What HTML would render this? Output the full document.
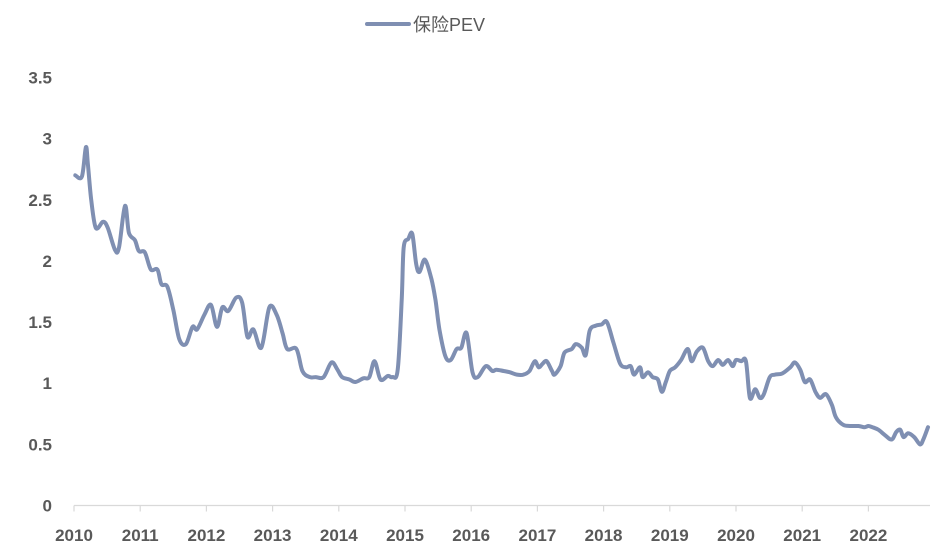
<!DOCTYPE html>
<html><head><meta charset="utf-8">
<style>
html,body{margin:0;padding:0;background:#fff;}
svg text{font-family:"Liberation Sans","Noto Sans CJK SC",sans-serif;}
</style></head>
<body>
<svg id="chart" width="942" height="552" viewBox="0 0 942 552" xmlns="http://www.w3.org/2000/svg">
  <g>
    <line x1="367" y1="24" x2="409" y2="24" stroke="#7f8fb2" stroke-width="4" stroke-linecap="round"/>
    <text x="413" y="31" font-size="18" fill="#595959">保险PEV</text>
  </g>
  <g id="yaxis"></g>
  <g id="xaxis"></g>
  <path id="series" fill="none" stroke="#7f8fb2" stroke-width="4" stroke-linejoin="round" stroke-linecap="round"/>
</svg>
<script>
const yTicks = [0, 0.5, 1, 1.5, 2, 2.5, 3, 3.5];
const yTickLabels = ["0","0.5","1","1.5","2","2.5","3","3.5"];
const xYears = [2010,2011,2012,2013,2014,2015,2016,2017,2018,2019,2020,2021,2022];
const dates = [0.02,0.12,0.18,0.21,0.26,0.33,0.44,0.51,0.62,0.68,0.77,0.83,0.92,0.98,1.07,1.16,1.26,1.32,1.41,1.50,1.59,1.69,1.79,1.86,1.97,2.07,2.16,2.24,2.33,2.45,2.54,2.62,2.71,2.83,2.95,3.06,3.15,3.22,3.36,3.45,3.56,3.65,3.77,3.89,3.98,4.05,4.16,4.25,4.37,4.46,4.54,4.63,4.74,4.81,4.89,4.95,4.98,5.05,5.11,5.17,5.22,5.30,5.40,5.46,5.52,5.61,5.69,5.78,5.85,5.93,6.02,6.10,6.22,6.32,6.38,6.49,6.58,6.69,6.79,6.88,6.96,7.02,7.08,7.14,7.22,7.26,7.35,7.41,7.52,7.58,7.67,7.73,7.79,7.88,7.97,8.05,8.15,8.25,8.34,8.41,8.46,8.55,8.59,8.67,8.74,8.82,8.88,8.94,9.00,9.08,9.17,9.27,9.33,9.41,9.50,9.58,9.65,9.73,9.80,9.88,9.95,10.00,10.08,10.15,10.21,10.29,10.36,10.42,10.51,10.59,10.70,10.82,10.89,10.97,11.04,11.12,11.20,11.27,11.36,11.45,11.51,11.62,11.72,11.85,11.94,12.00,12.06,12.15,12.24,12.35,12.42,12.48,12.53,12.60,12.69,12.78,12.83,12.90];
const values = [2.70,2.69,2.93,2.79,2.50,2.27,2.32,2.27,2.09,2.11,2.45,2.23,2.17,2.08,2.07,1.93,1.93,1.81,1.79,1.60,1.36,1.32,1.46,1.44,1.56,1.64,1.46,1.62,1.59,1.70,1.66,1.38,1.44,1.29,1.62,1.56,1.41,1.28,1.28,1.10,1.05,1.05,1.05,1.17,1.11,1.05,1.03,1.01,1.04,1.05,1.18,1.03,1.06,1.05,1.11,1.68,2.11,2.18,2.22,1.97,1.91,2.01,1.85,1.68,1.44,1.22,1.19,1.28,1.29,1.41,1.09,1.05,1.14,1.10,1.11,1.10,1.09,1.07,1.07,1.10,1.18,1.13,1.16,1.18,1.10,1.07,1.14,1.25,1.28,1.32,1.29,1.23,1.43,1.47,1.48,1.50,1.33,1.16,1.13,1.14,1.07,1.13,1.05,1.09,1.05,1.03,0.93,1.01,1.10,1.13,1.19,1.28,1.18,1.26,1.29,1.18,1.14,1.19,1.15,1.19,1.14,1.19,1.18,1.18,0.88,0.95,0.88,0.91,1.05,1.07,1.08,1.13,1.17,1.11,1.01,1.03,0.93,0.88,0.91,0.82,0.72,0.66,0.65,0.65,0.64,0.65,0.64,0.62,0.58,0.54,0.60,0.62,0.56,0.59,0.56,0.50,0.54,0.64];

const NS = "http://www.w3.org/2000/svg";
const x0 = 74, pxPerYear = 66.2, y0 = 505.5, pxPerUnit = 122.3;
function xScale(t){ return x0 + t * pxPerYear; }
function yScale(v){ return y0 - v * pxPerUnit; }
function mk(tag, attrs, parent){
  const e = document.createElementNS(NS, tag);
  for (const k in attrs) e.setAttribute(k, attrs[k]);
  parent.appendChild(e); return e;
}
const yG = document.getElementById('yaxis');
yTicks.forEach((v,i)=>{
  const t = mk('text',{x:52,y:yScale(v)+6,'text-anchor':'end','font-size':17,'font-weight':'bold',fill:'#595959'},yG);
  t.textContent = yTickLabels[i];
  
  
});
const xG = document.getElementById('xaxis');
const axisLine = mk('line',{x1:x0,y1:y0,x2:930,y2:y0,stroke:'#d9d9d9','stroke-width':1.2},xG);


xYears.forEach((yr,i)=>{
  const x = xScale(yr - 2010);
  const tk = mk('line',{x1:x,y1:y0,x2:x,y2:y0+6,stroke:'#d9d9d9','stroke-width':1.2},xG);
  
  
  const t = mk('text',{x:x,y:541,'text-anchor':'middle','font-size':17,'font-weight':'bold',fill:'#595959'},xG);
  t.textContent = String(yr);
  
  
});
const pts = dates.map((d,i)=>[xScale(d), yScale(values[i])]);
let d = 'M' + pts[0][0].toFixed(1) + ',' + pts[0][1].toFixed(1);
for (let i=0;i<pts.length-1;i++){
  const p0 = pts[Math.max(0,i-1)], p1 = pts[i], p2 = pts[i+1], p3 = pts[Math.min(pts.length-1,i+2)];
  const c1x = p1[0] + (p2[0]-p0[0])/6, c1y = p1[1] + (p2[1]-p0[1])/6;
  const c2x = p2[0] - (p3[0]-p1[0])/6, c2y = p2[1] - (p3[1]-p1[1])/6;
  d += ' C' + c1x.toFixed(1)+','+c1y.toFixed(1)+' '+c2x.toFixed(1)+','+c2y.toFixed(1)+' '+p2[0].toFixed(1)+','+p2[1].toFixed(1);
}
document.getElementById('series').setAttribute('d', d);
</script>
</body></html>
